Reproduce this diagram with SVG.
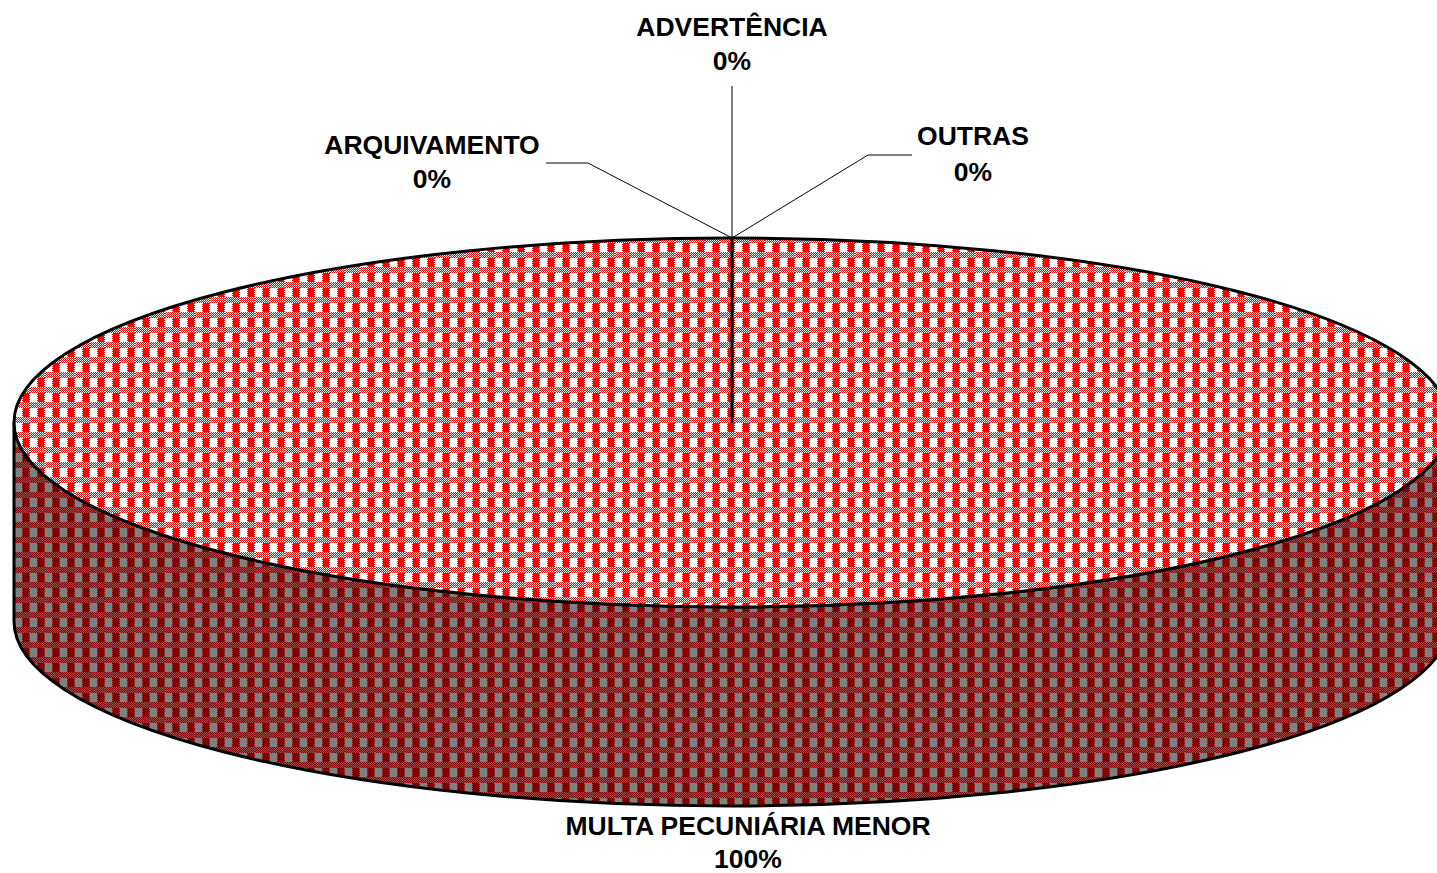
<svg xmlns="http://www.w3.org/2000/svg" width="1437" height="873" viewBox="0 0 1437 873">
  <style>
    .lbl { font-family: "Liberation Sans", Arial, sans-serif; font-weight: bold; font-size: 26.5px; fill: #000; text-anchor: middle; }
    .leader { stroke: #000; stroke-width: 1; fill: none; }
    .outline { stroke: #000; stroke-width: 3; }
  </style>
  <defs>
    <pattern id="dTop" patternUnits="userSpaceOnUse" x="0" y="0" width="2" height="2">
      <rect width="2" height="2" fill="#ffffff"/>
      <rect x="0" y="0" width="1" height="1" fill="#ff0000"/>
      <rect x="1" y="1" width="1" height="1" fill="#ff0000"/>
    </pattern>
    <pattern id="pTop" patternUnits="userSpaceOnUse" x="0" y="3" width="15" height="15">
      <rect width="15" height="15" fill="url(#dTop)"/>
      <rect x="0" y="0" width="7" height="9" fill="#ffffff"/>
      <rect x="8" y="0" width="6" height="9" fill="#ff0000"/>
    </pattern>
    <pattern id="dSide" patternUnits="userSpaceOnUse" x="0" y="0" width="2" height="2">
      <rect width="2" height="2" fill="#800000"/>
      <rect x="0" y="0" width="1" height="1" fill="#a05050"/>
      <rect x="1" y="1" width="1" height="1" fill="#a05050"/>
    </pattern>
    <pattern id="pSide" patternUnits="userSpaceOnUse" x="0" y="3" width="15" height="15">
      <rect width="15" height="15" fill="url(#dSide)"/>
      <rect x="0" y="0" width="7" height="9" fill="#808080"/>
      <rect x="8" y="0" width="6" height="9" fill="#800000"/>
    </pattern>
  </defs>

  <g id="pie">
    <path id="side" class="outline" fill="url(#pSide)" d="M 14,422.5 L 14,621.5 A 718 184.5 0 0 0 1450,621.5 L 1450,422.5 A 718 184.5 0 0 1 14,422.5 Z"/>
    <ellipse id="top" class="outline" fill="url(#pTop)" cx="732" cy="422.5" rx="718" ry="184.5"/>
    <line class="outline" x1="732" y1="238" x2="732" y2="423"/>
  </g>

  <g id="connectors">
    <polyline class="leader" points="732,86 732,238"/>
    <polyline class="leader" points="546,163 588,163 732,238"/>
    <polyline class="leader" points="912,155 868,155 732,238"/>
  </g>

  <g id="advertencia">
    <text class="lbl" x="732" y="36">ADVERTÊNCIA</text>
    <text class="lbl" x="732" y="70">0%</text>
  </g>
  <g id="arquivamento">
    <text class="lbl" x="432" y="154">ARQUIVAMENTO</text>
    <text class="lbl" x="432" y="188">0%</text>
  </g>
  <g id="outras">
    <text class="lbl" x="973" y="145">OUTRAS</text>
    <text class="lbl" x="973" y="181">0%</text>
  </g>
  <g id="multa">
    <text class="lbl" x="748" y="835">MULTA PECUNIÁRIA MENOR</text>
    <text class="lbl" x="748" y="868">100%</text>
  </g>
</svg>
